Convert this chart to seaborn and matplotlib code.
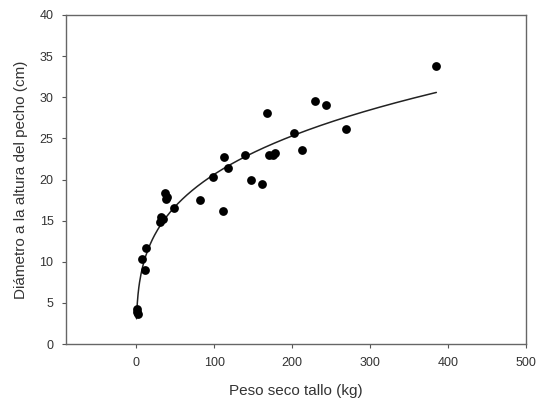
import numpy as np
import pandas as pd
import matplotlib
matplotlib.use("Agg")
import matplotlib.pyplot as plt
import seaborn as sns

# Data
peso = [1, 1, 2, 8, 11, 12, 30, 32, 35, 37, 38, 40, 48, 82, 99, 112, 113, 118,
        140, 147, 161, 168, 170, 175, 178, 202, 213, 229, 244, 269, 385]
diametro = [4.3, 3.9, 3.6, 10.3, 9.0, 11.7, 14.8, 15.4, 15.2, 18.3, 17.6, 17.9, 16.5,
            17.5, 20.3, 16.2, 22.7, 21.4, 23.0, 20.0, 19.5, 28.1, 23.0, 23.0, 23.2,
            25.6, 23.6, 29.6, 29.0, 26.2, 33.8]
x_ticks = [0, 100, 200, 300, 400, 500]
y_ticks = [0, 5, 10, 15, 20, 25, 30, 35, 40]

df = pd.DataFrame({"peso": peso, "diametro": diametro})

sns.set_style("white")
plt.rcParams["font.family"] = ["Liberation Sans", "DejaVu Sans"]

fig = plt.figure(figsize=(5.48, 4.01), dpi=100)
ax = fig.add_axes([0.1204, 0.1421, 0.8395, 0.8205])

# regression curve y = y0 + a * x^c, least squares over a grid of exponents
xv = df["peso"].to_numpy(float)
yv = df["diametro"].to_numpy(float)
best = None
for c in np.linspace(0.05, 1.0, 400):
    A = np.column_stack([np.ones_like(xv), xv ** c])
    coef, *_ = np.linalg.lstsq(A, yv, rcond=None)
    r = np.sum((A @ coef - yv) ** 2)
    if best is None or r < best[0]:
        best = (r, c, coef)
_, c, (y0, a) = best
xf = np.linspace(0.5, xv.max(), 400)
fit = pd.DataFrame({"peso": xf, "diametro": y0 + a * xf ** c})

sns.lineplot(data=fit, x="peso", y="diametro", ax=ax, color="#222222", lw=1.1)
sns.scatterplot(data=df, x="peso", y="diametro", ax=ax, color="black", s=40,
                edgecolor="black", linewidth=0, zorder=3)

ax.set_xlim(-90, 500)
ax.set_ylim(0, 40)
ax.set_xticks(x_ticks)
ax.set_yticks(y_ticks)
ax.tick_params(axis="both", direction="out", length=3, width=0.8, color="#555555",
               labelsize=9, labelcolor="#333333", bottom=True, left=True, pad=6)
for s in ax.spines.values():
    s.set_color("#666666")
    s.set_linewidth(1.0)
ax.set_xlabel("Peso seco tallo (kg)", fontsize=11, color="#333333", labelpad=11)
ax.set_ylabel("Diámetro a la altura del pecho (cm)", fontsize=11, color="#333333", labelpad=8)

fig.savefig("out.png", dpi=100)
